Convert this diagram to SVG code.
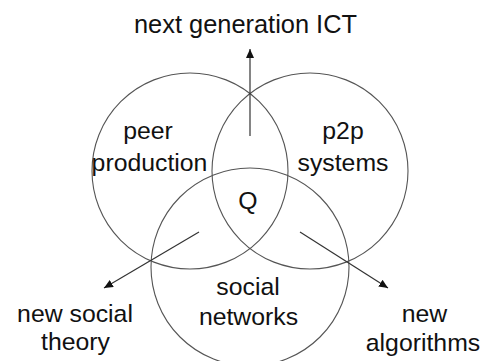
<svg xmlns="http://www.w3.org/2000/svg" width="492" height="361" viewBox="0 0 492 361">
<defs>
<style>
.c{fill:none;stroke:#555;stroke-width:1.1}
.t{font-family:"Liberation Sans",Arial,sans-serif;font-size:24.8px;fill:#111;text-anchor:middle}
.a{stroke:#333;stroke-width:1.2;fill:none}
</style>
<marker id="ah" markerWidth="10" markerHeight="10" refX="9" refY="4" orient="auto" markerUnits="userSpaceOnUse">
<path d="M0,0 L9,4 L0,8 Z" fill="#111"/>
</marker>
</defs>
<rect width="492" height="361" fill="#fff"/>
<g id="peer-production">
<circle class="c" cx="190" cy="171" r="98"/>
<text class="t" x="148" y="139">peer</text>
<text class="t" x="149.5" y="170.5">production</text>
</g>
<g id="p2p-systems">
<circle class="c" cx="310" cy="171" r="98"/>
<text class="t" x="343" y="139">p2p</text>
<text class="t" x="343" y="170.5">systems</text>
</g>
<g id="social-networks">
<circle class="c" cx="250" cy="267" r="99"/>
<text class="t" x="248" y="295">social</text>
<text class="t" x="248.5" y="325">networks</text>
</g>
<g id="Q">
<text class="t" x="248" y="209">Q</text>
</g>
<g id="next-generation-ICT">
<text class="t" x="245.5" y="33" style="font-size:25.4px">next generation ICT</text>
</g>
<g id="new-social-theory">
<text class="t" x="75" y="321.5">new social</text>
<text class="t" x="75.5" y="350">theory</text>
</g>
<g id="new-algorithms">
<text class="t" x="424.5" y="321.5">new</text>
<text class="t" x="423" y="351">algorithms</text>
</g>
<g id="connectors">
<line class="a" x1="250" y1="136" x2="250" y2="49" marker-end="url(#ah)"/>
<line class="a" x1="199" y1="232" x2="104" y2="288" marker-end="url(#ah)"/>
<line class="a" x1="300" y1="232" x2="388" y2="288" marker-end="url(#ah)"/>
</g>
</svg>
